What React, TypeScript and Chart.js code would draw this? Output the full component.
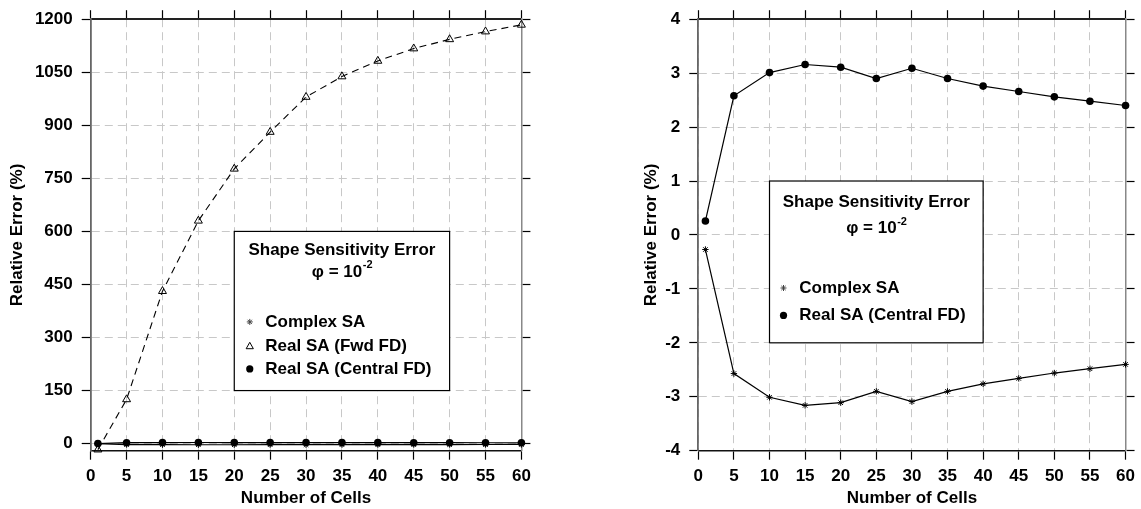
import React, { useEffect, useRef } from 'react';
import { Chart, registerables } from 'chart.js';

Chart.register(...registerables);

// ---------- data ----------
const cells = [1, 5, 10, 15, 20, 25, 30, 35, 40, 45, 50, 55, 60];
const complexSA = [-0.27, -2.57, -3.01, -3.16, -3.11, -2.9, -3.09, -2.9, -2.76, -2.66, -2.56, -2.48, -2.4];
const realSAFwdFD = [-17, 125, 431, 630, 777, 881, 980, 1038, 1082, 1117, 1143, 1165, 1184];
const realSACentralFD = [0.26, 2.58, 3.01, 3.16, 3.11, 2.9, 3.09, 2.9, 2.76, 2.66, 2.56, 2.48, 2.4];

const xTickValues = [0, 5, 10, 15, 20, 25, 30, 35, 40, 45, 50, 55, 60];
const leftYTickValues = [0, 150, 300, 450, 600, 750, 900, 1050, 1200];
const rightYTickValues = [-4, -3, -2, -1, 0, 1, 2, 3, 4];

const legendTitle = 'Shape Sensitivity Error';
const legendPhi = 'φ = 10';
const legendSup = '-2';
const xTitle = 'Number of Cells';
const yTitle = 'Relative Error (%)';

const FONT = '"Liberation Sans", Arial, Helvetica, sans-serif';

function pts(vals: number[]) {
  return cells.map((c, i) => ({ x: c, y: vals[i] }));
}

function drawMarker(ctx: CanvasRenderingContext2D, style: string, x: number, y: number) {
  ctx.save();
  ctx.strokeStyle = '#000';
  ctx.fillStyle = '#000';
  ctx.lineWidth = 1;
  if (style === 'circle') {
    ctx.beginPath();
    ctx.arc(x, y, 3.6, 0, Math.PI * 2);
    ctx.fill();
  } else if (style === 'triangle') {
    const r = 4;
    ctx.beginPath();
    ctx.moveTo(x, y - r);
    ctx.lineTo(x + r * 0.9, y + r * 0.6);
    ctx.lineTo(x - r * 0.9, y + r * 0.6);
    ctx.closePath();
    ctx.stroke();
  } else {
    const r = 3;
    ctx.strokeStyle = '#444';
    for (let a = 0; a < 4; a++) {
      const t = (a * Math.PI) / 4;
      ctx.beginPath();
      ctx.moveTo(x - r * Math.cos(t), y - r * Math.sin(t));
      ctx.lineTo(x + r * Math.cos(t), y + r * Math.sin(t));
      ctx.stroke();
    }
  }
  ctx.restore();
}

type BoxCfg = {
  x0: number; x1: number; y0: number; y1: number;
  titleDy: number; phiDy: number; entryDy: number[]; markerDx: number; textDx: number;
};

function boxLegend(cfg: BoxCfg) {
  return {
    id: 'boxLegend',
    afterDatasetsDraw(chart: any) {
      const { ctx } = chart;
      const xs = chart.scales.x;
      const ys = chart.scales.y;
      const l = xs.getPixelForValue(cfg.x0);
      const r = xs.getPixelForValue(cfg.x1);
      const t = ys.getPixelForValue(cfg.y0);
      const b = ys.getPixelForValue(cfg.y1);
      ctx.save();
      ctx.fillStyle = '#fff';
      ctx.fillRect(l, t, r - l, b - t);
      ctx.strokeStyle = '#000';
      ctx.lineWidth = 1.2;
      ctx.strokeRect(l, t, r - l, b - t);
      const cx = (l + r) / 2;
      ctx.fillStyle = '#000';
      ctx.textBaseline = 'middle';
      ctx.font = `bold 17px ${FONT}`;
      ctx.textAlign = 'center';
      ctx.fillText(legendTitle, cx, t + cfg.titleDy);
      // phi line with superscript
      const w1 = ctx.measureText(legendPhi).width;
      ctx.font = `bold 11px ${FONT}`;
      const w2 = ctx.measureText(legendSup).width;
      const sx = cx - (w1 + w2) / 2;
      ctx.textAlign = 'left';
      ctx.font = `bold 17px ${FONT}`;
      ctx.fillText(legendPhi, sx, t + cfg.phiDy);
      ctx.font = `bold 11px ${FONT}`;
      ctx.fillText(legendSup, sx + w1 + 0.5, t + cfg.phiDy - 7);
      // entries
      ctx.font = `bold 17px ${FONT}`;
      chart.data.datasets.forEach((ds: any, i: number) => {
        const yy = t + cfg.entryDy[i];
        drawMarker(ctx, ds.pointStyle, l + cfg.markerDx, yy);
        ctx.fillStyle = '#000';
        ctx.fillText(ds.label, l + cfg.textDx, yy);
      });
      ctx.restore();
    },
  };
}

function dsComplex() {
  return {
    label: 'Complex SA',
    data: pts(complexSA),
    borderColor: '#000',
    borderWidth: 1.2,
    pointStyle: 'star',
    pointRadius: 3.2,
    pointBorderWidth: 1,
    pointBorderColor: '#000',
    pointBackgroundColor: '#000',
    tension: 0,
    clip: false,
  };
}
function dsFwd() {
  return {
    label: 'Real SA (Fwd FD)',
    data: pts(realSAFwdFD),
    borderColor: '#000',
    borderWidth: 1.1,
    borderDash: [7, 5],
    pointStyle: 'triangle',
    pointRadius: 4.6,
    pointBorderWidth: 1,
    pointBorderColor: '#000',
    pointBackgroundColor: 'rgba(255,255,255,0)',
    tension: 0,
    clip: false,
  };
}
function dsCentral() {
  return {
    label: 'Real SA (Central FD)',
    data: pts(realSACentralFD),
    borderColor: '#000',
    borderWidth: 1.2,
    pointStyle: 'circle',
    pointRadius: 3.8,
    pointBorderWidth: 0,
    pointBorderColor: '#000',
    pointBackgroundColor: '#000',
    tension: 0,
    clip: false,
  };
}

type Params = {
  datasets: any[];
  yMin: number; yMax: number; yTicks: number[];
  padLeft: number; yWidth: number; y2Width: number;
  legend: BoxCfg;
};

function makeConfig(p: Params): any {
  const tickFont = { family: FONT, size: 17, weight: 'bold' as const };
  const grid = {
    color: '#c8c8c8',
    lineWidth: 1,
    tickColor: '#000',
    tickLength: 9,
    tickWidth: 1.2,
  };
  const setYTicks = (s: any) => {
    s.ticks = p.yTicks.map((v) => ({ value: v }));
  };
  const setXTicks = (s: any) => {
    s.ticks = xTickValues.map((v) => ({ value: v }));
  };
  const plain = (v: any) => String(v);
  return {
    type: 'line',
    data: { datasets: p.datasets },
    options: {
      animation: false,
      responsive: false,
      maintainAspectRatio: false,
      layout: { padding: { left: p.padLeft, right: 0, top: 0, bottom: 0 } },
      plugins: { legend: { display: false }, tooltip: { enabled: false } },
      scales: {
        x: {
          type: 'linear',
          position: 'bottom',
          min: 0,
          max: 60,
          afterBuildTicks: setXTicks,
          ticks: { color: '#000', font: tickFont, padding: 6, maxRotation: 0, autoSkip: false, callback: plain },
          grid: { ...grid },
          border: { display: true, color: '#111', width: 1.5, dash: [8, 5] },
          title: { display: true, text: xTitle, color: '#000', font: { family: FONT, size: 17, weight: 'bold' }, padding: { top: 0, bottom: 0 } },
          afterFit: (s: any) => { s.height = 58.3; },
        },
        x2: {
          type: 'linear',
          position: 'top',
          min: 0,
          max: 60,
          afterBuildTicks: setXTicks,
          ticks: { display: false },
          grid: { ...grid, drawOnChartArea: false },
          border: { display: true, color: '#222', width: 2 },
          afterFit: (s: any) => { s.height = 18.3; },
        },
        y: {
          type: 'linear',
          position: 'left',
          min: p.yMin,
          max: p.yMax,
          afterBuildTicks: setYTicks,
          ticks: { color: '#000', font: tickFont, padding: 9, autoSkip: false, callback: plain },
          grid: { ...grid },
          border: { display: true, color: '#666', width: 1.8, dash: [8, 5] },
          title: { display: true, text: yTitle, color: '#000', font: { family: FONT, size: 17, weight: 'bold' }, padding: { top: 7.3, bottom: 0 } },
          afterFit: (s: any) => { s.width = p.yWidth; },
        },
        y2: {
          type: 'linear',
          position: 'right',
          min: p.yMin,
          max: p.yMax,
          afterBuildTicks: setYTicks,
          ticks: { display: false },
          grid: { ...grid, drawOnChartArea: false },
          border: { display: true, color: '#888', width: 1.5 },
          afterFit: (s: any) => { s.width = p.y2Width; },
        },
      },
    },
    plugins: [boxLegend(p.legend)],
  };
}

function ChartCanvas({ params, width, height }: { params: Params; width: number; height: number }) {
  const ref = useRef<HTMLCanvasElement | null>(null);
  useEffect(() => {
    if (!ref.current) return;
    const chart = new Chart(ref.current, makeConfig(params));
    return () => chart.destroy();
  }, []);
  return <canvas ref={ref} width={width} height={height} style={{ width, height, display: 'block' }} />;
}

const leftParams: Params = {
  datasets: [dsComplex(), dsFwd(), dsCentral()],
  yMin: -20,
  yMax: 1200,
  yTicks: leftYTickValues,
  padLeft: 0,
  yWidth: 90.7,
  y2Width: 560 - 521.4,
  legend: { x0: 20, x1: 50, y0: 600, y1: 150, titleDy: 18.5, phiDy: 41, entryDy: [90.5, 114.9, 137.5], markerDx: 15.5, textDx: 31 },
};

const rightParams: Params = {
  datasets: [dsComplex(), dsCentral()],
  yMin: -4,
  yMax: 4,
  yTicks: rightYTickValues,
  padLeft: 53.5,
  yWidth: 698.3 - 580 - 53.5,
  y2Width: 1141 - 1129.5,
  legend: { x0: 10, x1: 40, y0: 1, y1: -2, titleDy: 21.5, phiDy: 47.6, entryDy: [107, 134.4], markerDx: 14, textDx: 29.8 },
};

export default function App() {
  return (
    <div style={{ position: 'fixed', left: 0, top: 0, width: 1141, height: 509, background: '#fff', overflow: 'hidden' }}>
      <div style={{ position: 'absolute', left: 0, top: 0 }}>
        <ChartCanvas params={leftParams} width={560} height={509} />
      </div>
      <div style={{ position: 'absolute', left: 580, top: 0 }}>
        <ChartCanvas params={rightParams} width={561} height={509} />
      </div>
    </div>
  );
}
